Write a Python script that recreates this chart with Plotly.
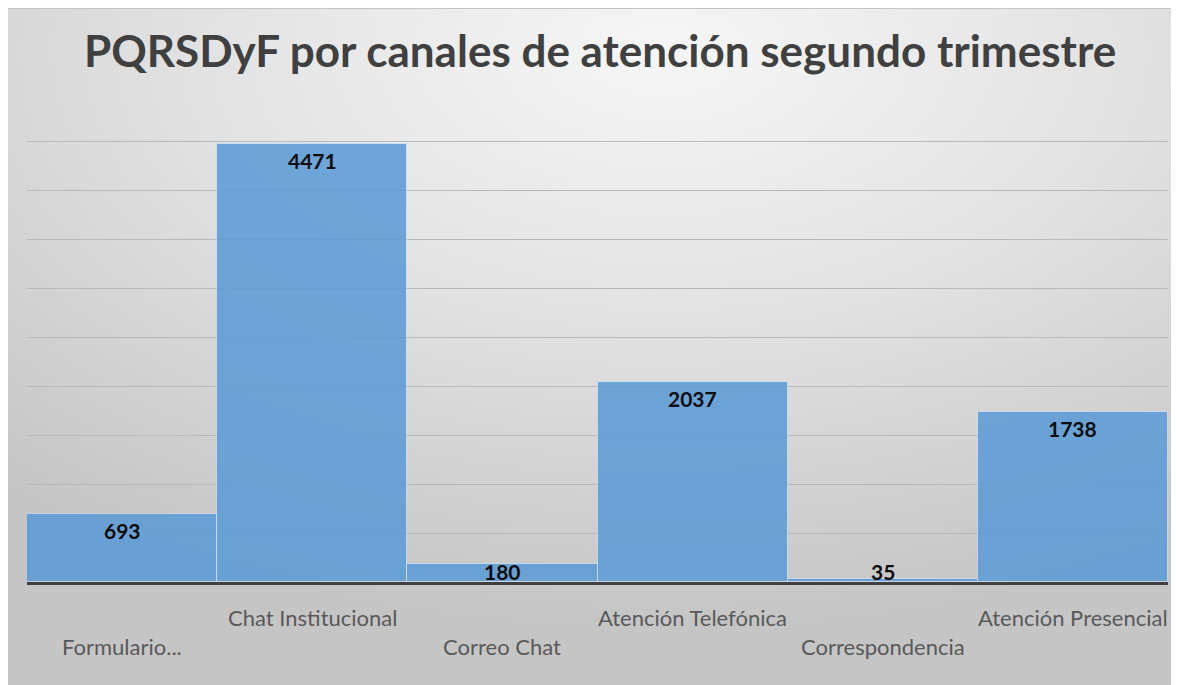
import base64
import plotly.graph_objects as go

categories = ["Formulario...", "Chat Institucional", "Correo Chat",
              "Atención Telefónica", "Correspondencia", "Atención Presencial"]
values = [693, 4471, 180, 2037, 35, 1738]
title_text = "PQRSDyF por canales de atención segundo trimestre"

# page body adds an 8px margin; the figure is laid out in page coordinates minus that
OFF = 8
W, H = 1179 - OFF, 685 - OFF
PLOT_X0, PLOT_X1 = 27 - OFF, 1168 - OFF
PLOT_Y0, PLOT_Y1 = 92 - OFF, 582 - OFF
L, R, T, B = PLOT_X0, W - PLOT_X1, PLOT_Y0, H - PLOT_Y1
pw = W - L - R
ph = H - T - B

def px_x(px):  # page px -> paper
    return (px - OFF - L) / pw

def px_y(py):
    return (H - B - (py - OFF)) / ph

svg = """<svg xmlns='http://www.w3.org/2000/svg' viewBox='0 0 1171 677' preserveAspectRatio='none'>
<defs><radialGradient id='g' cx='0.56' cy='0.06' r='0.85' fx='0.56' fy='0.06'>
<stop offset='0' stop-color='#f6f6f6'/>
<stop offset='0.45' stop-color='#e3e3e3'/>
<stop offset='1' stop-color='#c5c5c5'/>
</radialGradient></defs>
<rect x='0' y='0' width='1171' height='677' fill='url(#g)'/>
</svg>"""
src = "data:image/svg+xml;base64," + base64.b64encode(svg.encode()).decode()

fig = go.Figure()
fig.add_trace(go.Bar(
    x=categories, y=values,
    marker=dict(color="rgb(90,155,214)", opacity=0.86,
                line=dict(color="rgba(235,242,250,0.6)", width=1)),
    width=1.0,
    hoverinfo="x+y",
))

annotations = []
for c, v in zip(categories, values):
    if v >= 300:
        annotations.append(dict(x=c, y=v, xref="x", yref="y", text=f"<b>{v}</b>",
                                showarrow=False, yanchor="top", yshift=-2,
                                font=dict(family="Lato", size=21, color="#0d0d0d")))
    else:
        annotations.append(dict(x=c, y=0, xref="x", yref="y", text=f"<b>{v}</b>",
                                showarrow=False, yanchor="bottom", yshift=-4,
                                font=dict(family="Lato", size=21, color="#0d0d0d")))

for i, c in enumerate(categories):
    py = 646 if i % 2 == 0 else 617
    annotations.append(dict(x=c, y=px_y(py), xref="x", yref="paper",
                            text=c, showarrow=False, yanchor="middle",
                            font=dict(family="Lato", size=22, color="#595959")))

annotations.append(dict(x=px_x(600), y=px_y(50), xref="paper", yref="paper",
                        text=f"<b>{title_text}</b>", showarrow=False,
                        xanchor="center", yanchor="middle",
                        font=dict(family="Lato", size=44, color="#404040")))

fig.update_layout(
    width=W, height=H,
    margin=dict(l=L, r=R, t=T, b=B),
    paper_bgcolor="white",
    plot_bgcolor="rgba(0,0,0,0)",
    showlegend=False,
    bargap=0,
    annotations=annotations,
    images=[dict(source=src, xref="paper", yref="paper",
                 x=px_x(OFF), y=px_y(OFF),
                 sizex=px_x(OFF + W) - px_x(OFF),
                 sizey=px_y(OFF) - px_y(OFF + H),
                 xanchor="left", yanchor="top", sizing="stretch", layer="below")],
    shapes=[dict(type="line", xref="paper", yref="paper",
                 x0=px_x(OFF), x1=px_x(OFF + W),
                 y0=px_y(OFF + 0.5), y1=px_y(OFF + 0.5),
                 line=dict(color="#c4c4c4", width=1))],
    xaxis=dict(showticklabels=False, showgrid=False, zeroline=False,
               showline=True, linecolor="#404040", linewidth=3, ticks="",
               range=[-0.5, len(categories) - 0.5]),
    yaxis=dict(range=[0, 5000], dtick=500, showticklabels=False,
               showgrid=True, gridcolor="#b8b8b8", gridwidth=1,
               zeroline=False, showline=False, ticks=""),
)

fig.write_html("out.html",
               post_script="document.documentElement.style.overflow='hidden';")
